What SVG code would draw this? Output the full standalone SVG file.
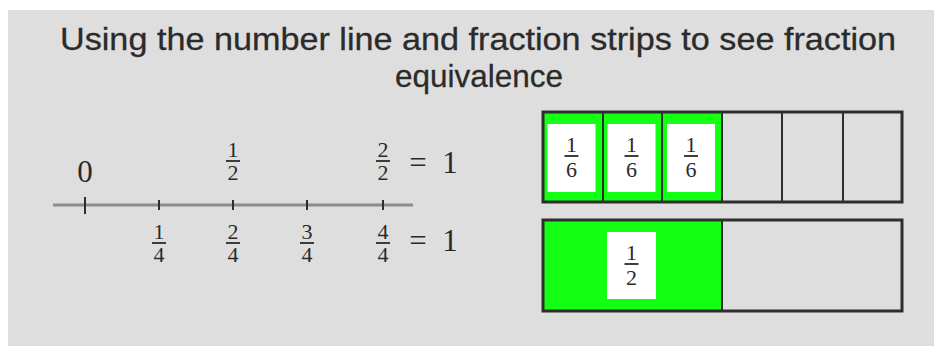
<svg xmlns="http://www.w3.org/2000/svg" width="934" height="351" viewBox="0 0 934 351">
<style>
.title{font-family:"Liberation Sans","DejaVu Sans",sans-serif;font-size:32px;fill:#2b2b2b;text-anchor:middle;stroke:#2b2b2b;stroke-width:0.3}
.num{font-family:"Liberation Serif","DejaVu Serif",serif;font-size:22px;fill:#2a2a2a;text-anchor:middle}
.big{font-family:"Liberation Serif","DejaVu Serif",serif;font-size:31px;fill:#2a2a2a;text-anchor:middle}
.bar{stroke:#2a2a2a;stroke-width:1.8}
.tick{stroke:#2e2e2e;stroke-width:2}
.frame{fill:none;stroke:#2e2e2e;stroke-width:3}
.div{stroke:#2e2e2e;stroke-width:2}
.green{fill:#13ff13}
.white{fill:#ffffff}
</style>
<rect x="0" y="0" width="934" height="351" fill="#ffffff"/>
<rect x="8" y="10" width="926" height="336" fill="#dedede"/>

<g id="title">
<text class="title" x="478" y="50" textLength="836" lengthAdjust="spacingAndGlyphs">Using the number line and fraction strips to see fraction</text>
<text class="title" x="479" y="87" textLength="168" lengthAdjust="spacingAndGlyphs">equivalence</text>
</g>

<g id="number-line">
<line x1="53" y1="205" x2="413" y2="205" stroke="#8c8c8c" stroke-width="3"/>
<line class="tick" x1="85" y1="197" x2="85" y2="214"/>
<line class="tick" x1="159" y1="200" x2="159" y2="210"/>
<line class="tick" x1="233" y1="200" x2="233" y2="210"/>
<line class="tick" x1="307" y1="200" x2="307" y2="210"/>
<line class="tick" x1="383" y1="200" x2="383" y2="210"/>
</g>

<g id="label-0"><text class="big" x="85" y="182">0</text></g>

<g id="label-1-2">
<text class="num" x="233" y="157">1</text>
<line class="bar" x1="226" y1="161" x2="240" y2="161"/>
<text class="num" x="233" y="180">2</text>
</g>

<g id="label-2-2">
<text class="num" x="383" y="157">2</text>
<line class="bar" x1="376" y1="161" x2="390" y2="161"/>
<text class="num" x="383" y="180">2</text>
<text class="big" x="418" y="173">=</text>
<text class="big" x="450" y="173">1</text>
</g>

<g id="label-1-4">
<text class="num" x="159" y="239">1</text>
<line class="bar" x1="152" y1="243" x2="166" y2="243"/>
<text class="num" x="159" y="262">4</text>
</g>
<g id="label-2-4">
<text class="num" x="233" y="239">2</text>
<line class="bar" x1="226" y1="243" x2="240" y2="243"/>
<text class="num" x="233" y="262">4</text>
</g>
<g id="label-3-4">
<text class="num" x="307" y="239">3</text>
<line class="bar" x1="300" y1="243" x2="314" y2="243"/>
<text class="num" x="307" y="262">4</text>
</g>
<g id="label-4-4">
<text class="num" x="383" y="239">4</text>
<line class="bar" x1="376" y1="243" x2="390" y2="243"/>
<text class="num" x="383" y="262">4</text>
<text class="big" x="418" y="251">=</text>
<text class="big" x="450" y="251">1</text>
</g>

<g id="sixths-strip">
<rect class="green" x="543" y="112" width="179" height="90"/>
<rect class="white" x="547.5" y="124" width="48" height="68"/>
<rect class="white" x="607.5" y="124" width="48" height="68"/>
<rect class="white" x="667" y="124" width="48" height="68"/>
<line class="div" x1="603" y1="112" x2="603" y2="202"/>
<line class="div" x1="662" y1="112" x2="662" y2="202"/>
<line class="div" x1="722" y1="112" x2="722" y2="202"/>
<line class="div" x1="782" y1="112" x2="782" y2="202"/>
<line class="div" x1="843" y1="112" x2="843" y2="202"/>
<rect class="frame" x="543" y="112" width="359" height="90"/>
<text class="num" x="571.5" y="152">1</text>
<line class="bar" x1="564.5" y1="156" x2="578.5" y2="156"/>
<text class="num" x="571.5" y="177">6</text>
<text class="num" x="631.5" y="152">1</text>
<line class="bar" x1="624.5" y1="156" x2="638.5" y2="156"/>
<text class="num" x="631.5" y="177">6</text>
<text class="num" x="691" y="152">1</text>
<line class="bar" x1="684" y1="156" x2="698" y2="156"/>
<text class="num" x="691" y="177">6</text>
</g>

<g id="half-strip">
<rect class="green" x="543" y="220" width="179" height="91"/>
<rect class="white" x="607" y="232" width="49" height="67"/>
<line class="div" x1="722" y1="220" x2="722" y2="311"/>
<rect class="frame" x="543" y="220" width="359" height="91"/>
<text class="num" x="631.5" y="260">1</text>
<line class="bar" x1="624.5" y1="264" x2="638.5" y2="264"/>
<text class="num" x="631.5" y="285">2</text>
</g>
</svg>
